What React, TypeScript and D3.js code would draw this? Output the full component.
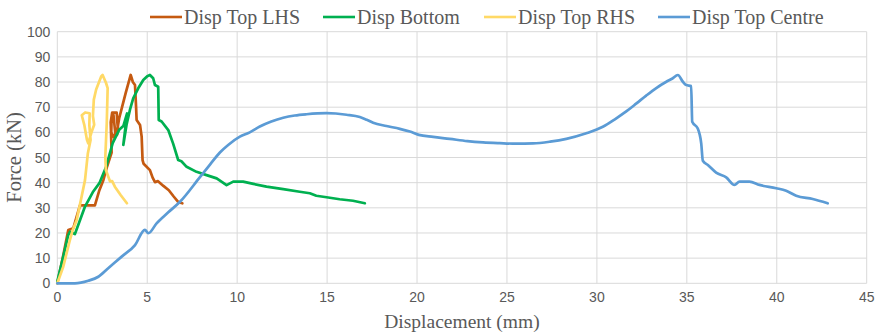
import React from "react";
import * as d3 from "d3";

// Force–displacement readings, [displacement mm, force kN]
const dispTopLHS: [number, number][] = [
  [0, 0], [0.3, 10], [0.61, 21.2], [0.89, 21.9], [1.26, 31], [1.7, 31], [2.09, 31],
  [2.34, 37], [2.56, 41], [2.75, 46], [3.02, 52], [2.97, 64], [3.05, 67.8], [3.3, 67.8],
  [3.36, 62], [3.15, 58], [3.0, 60], [3.02, 66], [3.12, 67], [3.22, 60], [3.32, 59],
  [3.38, 63], [3.44, 65.6], [3.6, 70], [3.8, 75.6], [4.08, 82.8], [4.2, 80], [4.32, 78.8],
  [4.38, 70], [4.41, 64.9], [4.6, 62.9], [4.69, 58.3], [4.74, 49], [4.8, 47.5],
  [5.15, 45], [5.3, 42], [5.43, 40.2], [5.6, 40.6], [5.9, 38.7], [6.2, 37], [6.47, 34.5],
  [6.74, 32.2], [6.95, 31.8],
];

const dispBottom: [number, number][] = [
  [0, 0.7], [0.33, 10.6], [0.6, 19], [0.7, 20.5], [0.98, 19.6], [1.54, 30.5],
  [2.0, 36.5], [2.34, 39.8], [2.7, 46], [3.08, 55.7], [3.44, 61], [3.67, 62.5],
  [3.88, 67.5], [3.67, 55], [3.85, 63], [4.04, 69], [4.22, 73.5], [4.5, 77.5],
  [4.78, 80.8], [5.0, 82.3], [5.15, 82.8], [5.33, 81.5], [5.43, 78.8], [5.61, 78.1],
  [5.64, 64.9], [5.8, 64.3], [6.17, 60.9], [6.44, 55.5], [6.72, 49], [6.9, 48.5],
  [7.19, 46.3], [7.74, 44.3], [8.3, 43], [8.86, 41.7], [9.41, 39], [9.78, 40.4],
  [10.33, 40.4], [10.9, 39.5], [11.63, 38.4], [12.56, 37.4], [13.48, 36.4], [14.04, 35.8],
  [14.4, 34.8], [14.97, 34.2], [15.7, 33.4], [16.44, 32.8], [17.1, 31.8],
];

const dispTopRHS: [number, number][] = [
  [0, 0], [0.33, 6.6], [0.7, 17.2], [0.85, 21], [1.08, 25.2], [1.35, 34.4], [1.54, 41],
  [1.7, 51.7], [1.85, 57], [1.78, 63], [1.8, 67.6], [1.55, 67.9], [1.36, 66.8],
  [1.5, 63], [1.65, 57], [1.72, 55.6], [1.9, 60], [2.05, 63], [1.98, 66.5], [2.03, 73],
  [2.16, 77], [2.44, 82.2], [2.52, 82.8], [2.71, 79.6], [2.8, 77.6], [2.75, 63.7],
  [2.67, 50.4], [2.7, 45], [2.93, 40.5], [3.05, 40.6], [3.2, 38.4], [3.53, 35],
  [3.87, 31.8],
];

const dispTopCentre: [number, number][] = [
  [0, 0], [0.98, 0], [1.72, 1], [2.28, 2.6], [2.83, 6], [3.58, 10.6], [4.32, 15.2],
  [4.87, 21.2], [5.06, 19.9], [5.52, 23.8], [6.17, 28.2], [6.82, 32.4], [7.93, 42.2],
  [8.5, 47.3], [9.04, 52], [9.5, 55], [10.15, 58.3], [10.7, 60], [11.26, 62.3],
  [11.9, 64.3], [12.56, 65.8], [13.2, 66.7], [13.86, 67.2], [14.97, 67.6], [16.08, 67.0],
  [16.82, 66.1], [17.2, 65], [17.56, 63.8], [18.3, 62.5], [19.04, 61.4], [19.6, 60.3],
  [20.1, 59], [20.9, 58.2], [21.82, 57.4], [22.8, 56.5], [23.67, 56], [24.6, 55.7],
  [25.5, 55.5], [26.45, 55.6], [27.4, 56.3], [28.3, 57.4], [29.41, 59.6], [30.33, 62.2],
  [31.0, 65.2], [31.63, 68.3], [32.2, 71.5], [32.74, 74.6], [33.3, 77.6], [33.86, 80.1],
  [34.2, 81.4], [34.5, 82.8], [34.78, 80.1], [34.97, 78.8], [35.24, 78.4], [35.3, 64.2],
  [35.6, 61.6], [35.8, 55.6], [35.89, 48.7], [36.17, 47], [36.63, 44], [37.19, 42.1],
  [37.65, 39.1], [37.93, 40.4], [38.48, 40.4], [39.04, 39.1], [39.97, 37.8],
  [40.52, 36.8], [41.08, 34.8], [42.0, 33.5], [42.83, 31.8],
];

const seriesNames = ["Disp Top LHS", "Disp Bottom", "Disp Top RHS", "Disp Top Centre"];
const seriesColors = ["#C55A11", "#00B050", "#FFD966", "#5B9BD5"];
const seriesData = [dispTopLHS, dispBottom, dispTopRHS, dispTopCentre];

const xTicks = [0, 5, 10, 15, 20, 25, 30, 35, 40, 45];
const yTicks = [0, 10, 20, 30, 40, 50, 60, 70, 80, 90, 100];

const W = 880;
const H = 333;
const plot = { left: 57.3, right: 866.7, top: 31.7, bottom: 283.3 };

// legend entries: sample line start x per entry
const legendX = [150, 323, 484, 658];

export default function App() {
  const x = d3.scaleLinear().domain([0, 45]).range([plot.left, plot.right]);
  const y = d3.scaleLinear().domain([0, 100]).range([plot.bottom, plot.top]);
  const straight = d3
    .line<[number, number]>()
    .x((d) => x(d[0]))
    .y((d) => y(d[1]));
  // the centre trace is monotone in displacement, so it can be smoothed
  const smooth = d3
    .line<[number, number]>()
    .x((d) => x(d[0]))
    .y((d) => y(d[1]))
    .curve(d3.curveMonotoneX);

  const grey = "#595959";
  const grid = "#D9D9D9";

  return (
    <svg
      width={W}
      height={H}
      style={{ position: "absolute", left: 0, top: 0, background: "#fff" }}
    >
      <rect x={0} y={0} width={W} height={H} fill="#fff" />
      {/* gridlines */}
      {yTicks.map((t) => (
        <line key={"gy" + t} x1={plot.left} x2={plot.right} y1={y(t)} y2={y(t)} stroke={grid} strokeWidth={1} />
      ))}
      {xTicks.map((t) => (
        <line key={"gx" + t} x1={x(t)} x2={x(t)} y1={plot.top} y2={plot.bottom} stroke={grid} strokeWidth={1} />
      ))}
      {/* tick labels */}
      {yTicks.map((t) => (
        <text
          key={"ty" + t}
          x={plot.left - 7}
          y={y(t)}
          dy="0.36em"
          textAnchor="end"
          fontFamily="'Liberation Sans', Arial, sans-serif"
          fontSize={14}
          fill={grey}
        >
          {t}
        </text>
      ))}
      {xTicks.map((t) => (
        <text
          key={"tx" + t}
          x={x(t)}
          y={302}
          textAnchor="middle"
          fontFamily="'Liberation Sans', Arial, sans-serif"
          fontSize={14}
          fill={grey}
        >
          {t}
        </text>
      ))}
      {/* series */}
      {seriesData.map((d, i) => (
        <path
          key={seriesNames[i]}
          d={(i === 3 ? smooth(d) : straight(d)) || ""}
          fill="none"
          stroke={seriesColors[i]}
          strokeWidth={2.7}
          strokeLinejoin="round"
          strokeLinecap="round"
        />
      ))}
      {/* axis titles */}
      <text
        x={(plot.left + plot.right) / 2}
        y={328}
        textAnchor="middle"
        fontFamily="'Liberation Serif', 'Times New Roman', serif"
        fontSize={19.5}
        fill={grey}
      >
        Displacement (mm)
      </text>
      <text
        transform={`translate(21,${(plot.top + plot.bottom) / 2}) rotate(-90)`}
        textAnchor="middle"
        fontFamily="'Liberation Serif', 'Times New Roman', serif"
        fontSize={20.5}
        fill={grey}
      >
        Force (kN)
      </text>
      {/* legend */}
      {seriesNames.map((n, i) => (
        <g key={"lg" + n}>
          <line x1={legendX[i]} x2={legendX[i] + 32} y1={17} y2={17} stroke={seriesColors[i]} strokeWidth={2.6} />
          <text
            x={legendX[i] + 34}
            y={24}
            fontFamily="'Liberation Serif', 'Times New Roman', serif"
            fontSize={20}
            fill={grey}
          >
            {n}
          </text>
        </g>
      ))}
    </svg>
  );
}
